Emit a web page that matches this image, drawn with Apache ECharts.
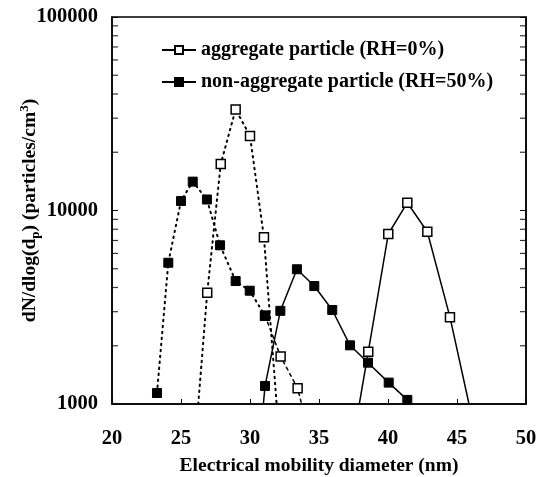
<!DOCTYPE html>
<html>
<head>
<meta charset="utf-8">
<script src="https://cdn.jsdelivr.net/npm/echarts@6/dist/echarts.min.js"></script>
<style>
  html, body { margin: 0; padding: 0; background: #fff; }
  #chart { width: 538px; height: 477px; }
</style>
</head>
<body>
<div id="chart"></div>
<script>
// x = electrical mobility diameter (nm), y = dN/dlog(dp)
// points sitting on y = 1000 are where a line runs out of the plot (no marker)
const aggSolidX = [37.92, 38.57, 40.02, 41.4, 42.85, 44.49, 45.87]
const aggSolidY = [1000, 1860, 7560, 10970, 7770, 2810, 1000]

const aggDotX = [26.25, 26.9, 27.88, 28.96, 30.0, 31.01, 31.93]
const aggDotY = [1000, 3760, 17400, 33300, 24300, 7270, 1000]

const aggTailX = [31.09, 32.22, 33.45, 33.74]
const aggTailY = [2860, 1760, 1205, 1000]

const nonSolidX = [30.97, 31.09, 32.2, 33.4, 34.66, 35.96, 37.25, 38.55, 40.05, 41.4]
const nonSolidY = [1000, 1240, 3030, 4970, 4070, 3060, 2010, 1635, 1290, 1050]

const nonDotX = [23.26, 24.08, 25.0, 25.85, 26.88, 27.83, 28.96, 29.98, 31.09]
const nonDotY = [1140, 5370, 11200, 14100, 11400, 6610, 4320, 3850, 2860]

const minorTickValues = [2000, 3000, 4000, 5000, 6000, 7000, 8000, 9000,
  20000, 30000, 40000, 50000, 60000, 70000, 80000, 90000]

const legendNames = ['aggregate particle (RH=0%)', 'non-aggregate particle (RH=50%)']

const font = 'Liberation Serif'
const yMin = 1000

function pts(xs, ys) {
  return xs.map((x, i) => ys[i] <= yMin ? { value: [x, ys[i]], symbol: 'none' } : [x, ys[i]])
}

const openSym = { color: '#fff', borderColor: '#000', borderWidth: 1.5 }
const fillSym = { color: '#000', borderColor: '#000', borderWidth: 1 }
const dotLine = { color: '#000', width: 2, type: [1.5, 4.5], cap: 'round' }
const solidLine = { color: '#000', width: 1.5 }

function lineSeries(name, xs, ys, sym, line, z) {
  return {
    name: name,
    type: 'line',
    data: pts(xs, ys),
    symbol: 'rect',
    symbolSize: 9,
    itemStyle: sym,
    lineStyle: line,
    z: z,
    animation: false,
    clip: true
  }
}

const chart = echarts.init(document.getElementById('chart'))

chart.setOption({
  animation: false,
  grid: {
    left: 112, right: 12, top: 17, bottom: 73,
    outerBoundsMode: 'none',
    containLabel: false,
    show: true, borderColor: '#000', borderWidth: 1.5
  },
  legend: {
    data: legendNames,
    orient: 'vertical',
    left: 156, top: 35,
    itemWidth: 34, itemHeight: 10, itemGap: 12,
    textStyle: { fontFamily: font, fontWeight: 'bold', fontSize: 20, color: '#000' }
  },
  xAxis: {
    type: 'value',
    min: 20, max: 50, interval: 5,
    name: 'Electrical mobility diameter (nm)',
    nameLocation: 'middle',
    nameGap: 52,
    nameMoveOverlap: false,
    nameTextStyle: { fontFamily: font, fontWeight: 'bold', fontSize: 19.5, color: '#000' },
    axisLine: { lineStyle: { color: '#000', width: 1.5 } },
    axisTick: { inside: true, length: 5, lineStyle: { color: '#000' } },
    axisLabel: { margin: 24, fontFamily: font, fontWeight: 'bold', fontSize: 20.5, color: '#000' },
    splitLine: { show: false }
  },
  yAxis: [{
    type: 'log',
    logBase: 10,
    min: 1000, max: 100000,
    name: '{a|dN/dlog(d}{s|p}{a|) (particles/cm}{t|3}{a|)}',
    nameLocation: 'middle',
    nameGap: 70,
    nameMoveOverlap: false,
    nameRotate: 90,
    nameTextStyle: {
      rich: {
        a: { fontFamily: font, fontWeight: 'bold', fontSize: 19.5, color: '#000', lineHeight: 24 },
        s: { fontFamily: font, fontWeight: 'bold', fontSize: 13, color: '#000', verticalAlign: 'bottom', lineHeight: 16 },
        t: { fontFamily: font, fontWeight: 'bold', fontSize: 13, color: '#000', verticalAlign: 'top', lineHeight: 16 }
      }
    },
    axisLine: { lineStyle: { color: '#000', width: 1.5 } },
    axisTick: { inside: true, length: 6, lineStyle: { color: '#000' } },
    axisLabel: {
      margin: 14, fontFamily: font, fontWeight: 'bold', fontSize: 20.5, color: '#000',
      formatter: v => String(v)
    },
    splitLine: { show: false }
  }, {
    type: 'log',
    logBase: 10,
    min: 1000, max: 100000,
    position: 'right',
    axisLine: { show: true, lineStyle: { color: '#000', width: 1.5 } },
    axisTick: { inside: true, length: 6, lineStyle: { color: '#000' } },
    axisLabel: { show: false },
    splitLine: { show: false }
  }],
  series: [
    lineSeries(legendNames[0], aggSolidX, aggSolidY, openSym, solidLine, 3),
    lineSeries('agg-dotted', aggDotX, aggDotY, openSym, dotLine, 3),
    lineSeries('agg-tail', aggTailX, aggTailY, openSym, Object.assign({}, dotLine, { width: 1.5, type: [3, 4] }), 2),
    lineSeries(legendNames[1], nonSolidX, nonSolidY, fillSym, solidLine, 4),
    lineSeries('non-dotted', nonDotX, nonDotY, fillSym, dotLine, 4),
    {
      name: 'minor-left',
      type: 'scatter',
      data: minorTickValues.map(v => [20, v]),
      symbol: 'rect',
      symbolSize: [6, 1.2],
      symbolOffset: [3, 0],
      itemStyle: { color: '#000' },
      silent: true,
      clip: false
    },
    {
      name: 'minor-right',
      type: 'scatter',
      data: minorTickValues.map(v => [50, v]),
      symbol: 'rect',
      symbolSize: [6, 1.2],
      symbolOffset: [-3, 0],
      itemStyle: { color: '#000' },
      silent: true,
      clip: false
    }
  ]
})
</script>
</body>
</html>
